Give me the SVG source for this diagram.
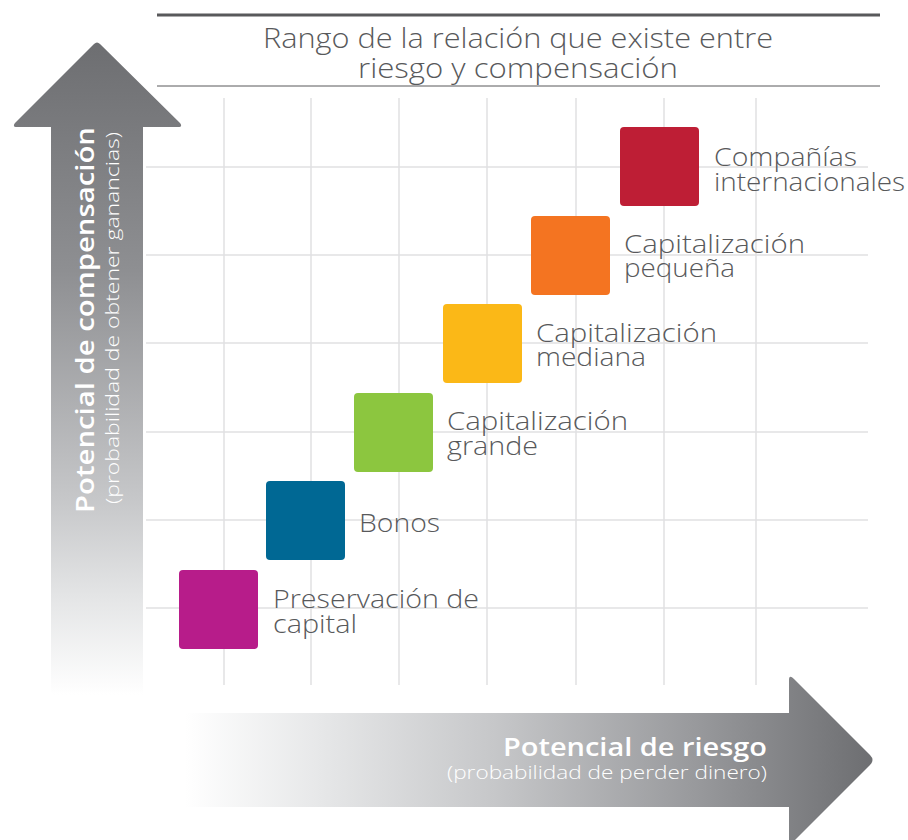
<svg xmlns="http://www.w3.org/2000/svg" width="908" height="840" viewBox="0 0 908 840">
<style>
.grid{stroke:#e1e1e2;stroke-width:1.5;fill:none}
.lbl{font-family:"Open Sans","Liberation Sans",sans-serif;font-weight:300;font-size:25px;fill:#58595b}
.ttl{font-family:"Open Sans","Liberation Sans",sans-serif;font-weight:300;font-size:27px;fill:#58595b}
.axb{font-family:"Open Sans","Liberation Sans",sans-serif;font-weight:600;font-size:26px;fill:#ffffff}
.axs{font-family:"Open Sans","Liberation Sans",sans-serif;font-weight:300;font-size:18px;fill:#ffffff}
</style>
<defs>
<linearGradient id="gv" gradientUnits="userSpaceOnUse" x1="0" y1="42" x2="0" y2="695">
<stop offset="0" stop-color="#6d6e71"/>
<stop offset="0.35" stop-color="#8e8f92"/>
<stop offset="0.7" stop-color="#c6c7c9"/>
<stop offset="0.85" stop-color="#e4e5e6"/>
<stop offset="1" stop-color="#ffffff"/>
</linearGradient>
<linearGradient id="gh" gradientUnits="userSpaceOnUse" x1="185" y1="0" x2="873" y2="0">
<stop offset="0" stop-color="#ffffff"/>
<stop offset="0.2" stop-color="#e6e7e8"/>
<stop offset="0.45" stop-color="#c6c7c9"/>
<stop offset="0.75" stop-color="#97989b"/>
<stop offset="1" stop-color="#6d6e71"/>
</linearGradient>
</defs>

<g id="title">
<line x1="157" y1="15" x2="880" y2="15" stroke="#58595b" stroke-width="3"/>
<line x1="157" y1="86" x2="880" y2="86" stroke="#58595b" stroke-width="1"/>
<text class="ttl" x="518" y="48" text-anchor="middle" textLength="510" lengthAdjust="spacingAndGlyphs">Rango de la relación que existe entre</text>
<text class="ttl" x="518" y="78" text-anchor="middle" textLength="320" lengthAdjust="spacingAndGlyphs">riesgo y compensación</text>
</g>

<g id="grid">
<line class="grid" x1="224" y1="98" x2="224" y2="685"/>
<line class="grid" x1="311" y1="98" x2="311" y2="685"/>
<line class="grid" x1="399" y1="98" x2="399" y2="685"/>
<line class="grid" x1="487" y1="98" x2="487" y2="685"/>
<line class="grid" x1="576" y1="98" x2="576" y2="685"/>
<line class="grid" x1="664" y1="98" x2="664" y2="685"/>
<line class="grid" x1="756" y1="98" x2="756" y2="685"/>
<line class="grid" x1="146" y1="167" x2="868" y2="167"/>
<line class="grid" x1="146" y1="255" x2="868" y2="255"/>
<line class="grid" x1="146" y1="343" x2="868" y2="343"/>
<line class="grid" x1="146" y1="432" x2="868" y2="432"/>
<line class="grid" x1="146" y1="520" x2="868" y2="520"/>
<line class="grid" x1="146" y1="608" x2="868" y2="608"/>
</g>

<g id="axis-y">
<path d="M94,44 Q97,41 100,44 L180,123 Q183,127 178,127 L143,127 L143,695 L51,695 L51,127 L17,127 Q12,127 15,123 Z" fill="url(#gv)"/>
<text class="axb" transform="translate(94,513) rotate(-90)" textLength="386" lengthAdjust="spacingAndGlyphs">Potencial de compensación</text>
<text class="axs" transform="translate(119,504) rotate(-90)" textLength="372" lengthAdjust="spacingAndGlyphs">(probabilidad de obtener ganancias)</text>
</g>

<g id="axis-x">
<path d="M185,713 L789,713 L789,680 Q789,674 794,679 L870,755 Q875,760 870,765 L794,841 Q789,846 789,840 L789,807 L185,807 Z" fill="url(#gh)"/>
<text class="axb" x="767" y="756" text-anchor="end" textLength="264" lengthAdjust="spacingAndGlyphs">Potencial de riesgo</text>
<text class="axs" x="767" y="779" text-anchor="end" textLength="320" lengthAdjust="spacingAndGlyphs">(probabilidad de perder dinero)</text>
</g>

<g id="node-preservacion">
<rect x="179" y="570" width="79" height="79" rx="4" fill="#b71c8a"/>
<text class="lbl" x="273" y="608" textLength="206" lengthAdjust="spacingAndGlyphs">Preservación de</text>
<text class="lbl" x="273" y="633" textLength="84" lengthAdjust="spacingAndGlyphs">capital</text>
</g>

<g id="node-bonos">
<rect x="266" y="481" width="79" height="79" rx="4" fill="#006894"/>
<text class="lbl" x="359" y="532" textLength="81" lengthAdjust="spacingAndGlyphs">Bonos</text>
</g>

<g id="node-grande">
<rect x="354" y="393" width="79" height="79" rx="4" fill="#8cc63f"/>
<text class="lbl" x="447" y="430" textLength="181" lengthAdjust="spacingAndGlyphs">Capitalización</text>
<text class="lbl" x="447" y="455" textLength="91" lengthAdjust="spacingAndGlyphs">grande</text>
</g>

<g id="node-mediana">
<rect x="443" y="304" width="79" height="79" rx="4" fill="#fbb817"/>
<text class="lbl" x="536" y="342" textLength="181" lengthAdjust="spacingAndGlyphs">Capitalización</text>
<text class="lbl" x="536" y="366" textLength="110" lengthAdjust="spacingAndGlyphs">mediana</text>
</g>

<g id="node-pequena">
<rect x="531" y="216" width="79" height="79" rx="4" fill="#f47421"/>
<text class="lbl" x="624" y="253" textLength="181" lengthAdjust="spacingAndGlyphs">Capitalización</text>
<text class="lbl" x="624" y="277" textLength="111" lengthAdjust="spacingAndGlyphs">pequeña</text>
</g>

<g id="node-internacionales">
<rect x="620" y="127" width="79" height="79" rx="4" fill="#be1e35"/>
<text class="lbl" x="714" y="166" textLength="143" lengthAdjust="spacingAndGlyphs">Compañías</text>
<text class="lbl" x="714" y="191" textLength="191" lengthAdjust="spacingAndGlyphs">internacionales</text>
</g>
</svg>
